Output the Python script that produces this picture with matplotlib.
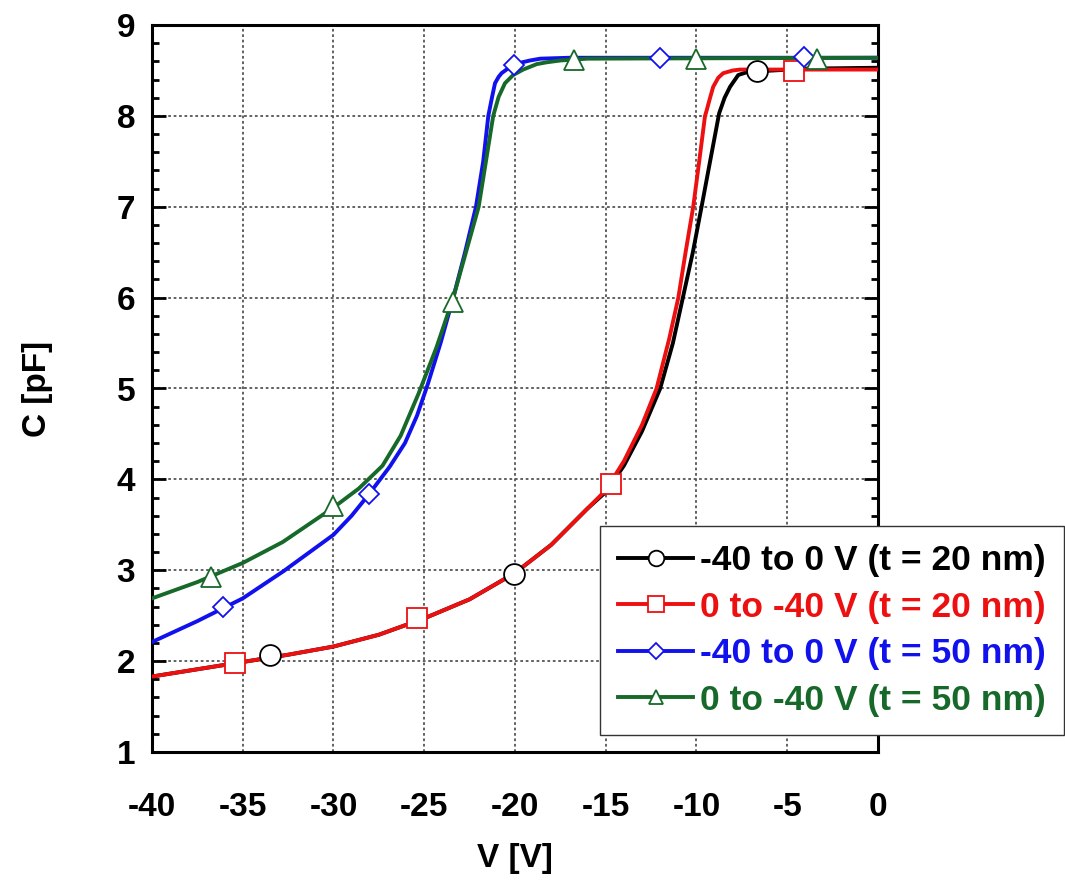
import matplotlib

matplotlib.use("Agg")
import matplotlib.pyplot as plt
from matplotlib.lines import Line2D
from matplotlib.ticker import MultipleLocator

plt.rcParams["font.family"] = ["Liberation Sans", "DejaVu Sans"]
plt.rcParams["font.weight"] = "bold"
plt.rcParams["axes.unicode_minus"] = False

# -40 to 0 V sweep, t = 20 nm
black_v = [-40, -37.5, -35, -32.5, -30, -27.5, -25, -22.5, -20, -18, -16, -15, -14, -13, -12,
           -11.3, -10.75, -10.2, -9.72, -9.25, -8.75, -8.45, -8.15, -7.7, -7.24, -6.67, -4, 0]
black_c = [1.83, 1.91, 1.99, 2.07, 2.16, 2.29, 2.47, 2.68, 2.97, 3.28, 3.68, 3.86, 4.15, 4.53, 5.0,
           5.5, 6.0, 6.5, 7.0, 7.5, 8.03, 8.2, 8.32, 8.45, 8.48, 8.49, 8.52, 8.53]
black_mv = [-33.5, -20.05, -6.67]
black_mc = [2.07, 2.96, 8.49]

# 0 to -40 V sweep, t = 20 nm
red_v = [-40, -37.5, -35, -32.5, -30, -27.5, -25, -22.5, -20, -18, -16, -15, -14, -13, -12.2,
         -11.5, -11.0, -10.6, -10.18, -9.85, -9.53, -9.44, -9.25, -9.08, -8.8, -8.53, -8.0,
         -7.6, -6, 0]
red_c = [1.83, 1.91, 1.99, 2.07, 2.16, 2.29, 2.47, 2.68, 2.97, 3.28, 3.68, 3.88, 4.2, 4.6, 5.0,
         5.55, 6.0, 6.5, 7.0, 7.5, 8.0, 8.06, 8.2, 8.32, 8.42, 8.47, 8.5,
         8.51, 8.51, 8.51]
red_mv = [-35.4, -25.4, -14.7, -4.65]
red_mc = [1.98, 2.47, 3.95, 8.49]

# -40 to 0 V sweep, t = 50 nm
blue_v = [-40, -37.5, -35, -32.75, -30, -29, -28.07, -26.9, -26.06, -25.4, -24.8, -24.1,
          -23.4, -22.75, -22.15, -21.75, -21.47, -21.25, -21.1, -20.9, -20.74, -20.4, -20.1,
          -19.6, -19.17, -18.6, -17, 0]
blue_c = [2.21, 2.44, 2.69, 2.99, 3.39, 3.6, 3.83, 4.14, 4.4, 4.7, 5.05, 5.5,
          6.0, 6.5, 7.0, 7.5, 8.0, 8.22, 8.36, 8.43, 8.47, 8.52, 8.56,
          8.59, 8.61, 8.63, 8.64, 8.64]
blue_mv = [-36.1, -28.05, -20.05, -12.0, -4.05]
blue_mc = [2.6, 3.84, 8.56, 8.64, 8.65]

# 0 to -40 V sweep, t = 50 nm
green_v = [-40, -37.5, -35, -32.8, -30, -28.6, -27.3, -26.3, -25.3, -24.33, -23.4, -22.7,
           -22.0, -21.6, -21.2, -20.9, -20.55, -20.1, -19.55, -18.8, -18.25, -17.5, -16, 0]
green_c = [2.69, 2.87, 3.08, 3.31, 3.69, 3.9, 4.15, 4.48, 4.95, 5.45, 6.0, 6.5,
           7.0, 7.5, 8.0, 8.21, 8.36, 8.45, 8.51, 8.57, 8.59, 8.61, 8.63, 8.64]
green_mv = [-36.75, -30.0, -23.4, -16.75, -10.0, -3.35]
green_mc = [2.93, 3.71, 5.95, 8.62, 8.63, 8.63]

series = [
    ("-40 to 0 V (t = 20 nm)", "#000000", "o", 15, black_v, black_c, black_mv, black_mc),
    ("0 to -40 V (t = 20 nm)", "#ec1010", "s", 15, red_v, red_c, red_mv, red_mc),
    ("-40 to 0 V (t = 50 nm)", "#1111ee", "D", 10.5, blue_v, blue_c, blue_mv, blue_mc),
    ("0 to -40 V (t = 50 nm)", "#17692a", "^", 14, green_v, green_c, green_mv, green_mc),
]

fig = plt.figure(figsize=(10.65, 8.88), dpi=100)
ax = fig.add_axes([0.1427, 0.1532, 0.6817, 0.8186])

for label, color, marker, ms, v, c, mv, mc in series:
    ax.plot(v, c, color=color, lw=2.8, zorder=3, solid_joinstyle="round")
for label, color, marker, ms, v, c, mv, mc in series:
    ax.plot(mv, mc, linestyle="none", marker=marker, ms=ms, mfc="white",
            mec=color, mew=1.3, zorder=4)

ax.set_xlim(-40, 0)
ax.set_ylim(1, 9)
ax.xaxis.set_major_locator(MultipleLocator(5))
ax.yaxis.set_major_locator(MultipleLocator(1))
ax.yaxis.set_minor_locator(MultipleLocator(0.2))
ax.tick_params(axis="x", which="both", length=0, pad=29, labelsize=24)
ax.tick_params(axis="y", which="major", direction="in", length=10, width=2,
               left=True, right=True, pad=12, labelsize=24)
ax.tick_params(axis="y", which="minor", direction="in", length=5, width=2,
               left=True, right=True)
for spine in ax.spines.values():
    spine.set_linewidth(2.2)
ax.grid(True, which="major", color="#555555", linestyle=(0, (1.5, 1.5)), lw=1.3)
ax.set_axisbelow(True)

ax.set_xlabel("V [V]", fontsize=24, fontweight="bold", labelpad=14)
ax.set_ylabel("C [pF]", fontsize=24, fontweight="bold", labelpad=46)

handles = [
    Line2D([], [], color=color, lw=2.8, marker=marker, ms=ms * 0.75, mfc="white",
           mec=color, mew=1.3)
    for label, color, marker, ms, v, c, mv, mc in series
]
labels = [s[0] for s in series]
leg = ax.legend(handles, labels, loc="upper left", bbox_to_anchor=(0.617, 0.311),
                fontsize=25.5, frameon=True, fancybox=False, framealpha=1,
                edgecolor="#333333", handlelength=2.1, handletextpad=0.2,
                labelspacing=0.38, borderpad=0.52, borderaxespad=0)
leg.get_frame().set_linewidth(1.0)
for text, (label, color, *_rest) in zip(leg.get_texts(), series):
    text.set_color(color)
    text.set_fontweight("bold")

fig.savefig("out.png", dpi=100)
